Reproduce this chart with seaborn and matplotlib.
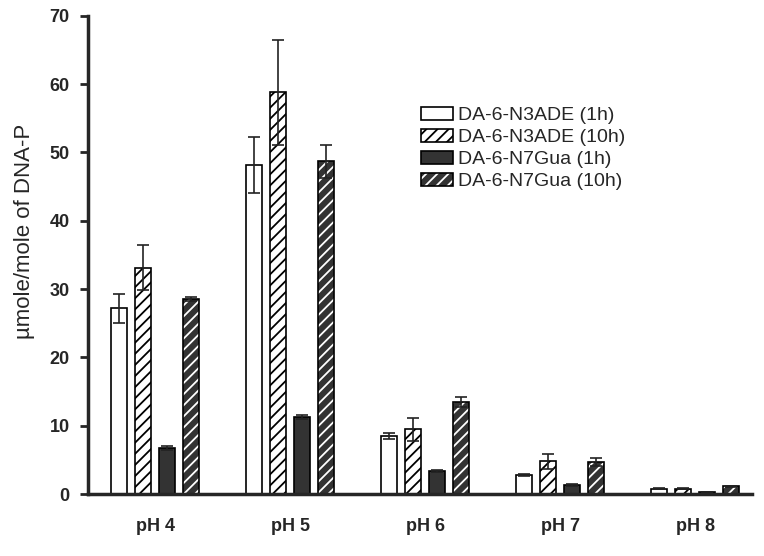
import numpy as np
import pandas as pd
import matplotlib
matplotlib.use("Agg")
import matplotlib.pyplot as plt
from matplotlib.patches import Rectangle
from matplotlib.legend_handler import HandlerTuple
import seaborn as sns

ph_labels = ["pH 4", "pH 5", "pH 6", "pH 7", "pH 8"]
series = ["DA-6-N3ADE (1h)", "DA-6-N3ADE (10h)", "DA-6-N7Gua (1h)", "DA-6-N7Gua (10h)"]

n3ade_1h = [27.2, 48.2, 8.5, 2.8, 0.8]
n3ade_10h = [33.1, 58.8, 9.5, 4.8, 0.8]
n7gua_1h = [6.8, 11.3, 3.3, 1.3, 0.3]
n7gua_10h = [28.6, 48.7, 13.5, 4.7, 1.1]

n3ade_1h_err = [2.1, 4.1, 0.4, 0.2, 0.1]
n3ade_10h_err = [3.3, 7.7, 1.7, 1.1, 0.1]
n7gua_1h_err = [0.3, 0.3, 0.15, 0.1, 0.05]
n7gua_10h_err = [0.3, 2.4, 0.7, 0.6, 0.1]

values = [n3ade_1h, n3ade_10h, n7gua_1h, n7gua_10h]
errors = [n3ade_1h_err, n3ade_10h_err, n7gua_1h_err, n7gua_10h_err]

rows = []
for s, v, e in zip(series, values, errors):
    for ph, val, err in zip(ph_labels, v, e):
        rows.append({"pH": ph, "series": s, "value": val, "err": err})
df = pd.DataFrame(rows)

sns.set_style("ticks")
plt.rcParams['font.family'] = ['Liberation Sans', 'DejaVu Sans']
plt.rcParams['hatch.linewidth'] = 1.3

fig = plt.figure(figsize=(7.64, 5.56), dpi=100)
ax = fig.add_axes([0.115, 0.1115, 0.869, 0.86])

face = ["white", "white", "#333333", "#333333"]
hatch = ["", "///", "", "///"]
palette = dict(zip(series, face))

sns.barplot(data=df, x="pH", y="value", hue="series", hue_order=series,
            order=ph_labels, palette=palette, width=0.71, gap=0.33,
            errorbar=None, edgecolor="black", linewidth=1.2,
            saturation=1, ax=ax, legend=False)

# style bars, add outlines and error bars
bar_containers = list(ax.containers)
for i, cont in enumerate(bar_containers):
    for j, p in enumerate(cont.patches):
        p.set_hatch(hatch[i])
        if i == 3:
            p.set_edgecolor("white")
            p.set_linewidth(0)
            ax.add_patch(Rectangle(p.get_xy(), p.get_width(), p.get_height(),
                                   fill=False, edgecolor="black", linewidth=1.2,
                                   zorder=p.get_zorder() + 0.1))
        cx = p.get_x() + p.get_width() / 2
        ax.errorbar(cx, p.get_height(), yerr=errors[i][j], fmt="none",
                    ecolor="#222222", elinewidth=1.2, capsize=4, capthick=1.2,
                    zorder=5)

# legend
handles = []
for i, s in enumerate(series):
    if i == 3:
        inner = Rectangle((0, 0), 1, 1, facecolor=face[i], hatch=hatch[i],
                          edgecolor="white", linewidth=0)
        outline = Rectangle((0, 0), 1, 1, fill=False, edgecolor="black", linewidth=1.2)
        handles.append((inner, outline))
    else:
        handles.append(Rectangle((0, 0), 1, 1, facecolor=face[i], hatch=hatch[i],
                                 edgecolor="black", linewidth=1.2))
leg = ax.legend(handles, series, loc="upper left", bbox_to_anchor=(0.49, 0.826),
                frameon=False, fontsize=14, handlelength=1.65, handleheight=0.67,
                labelspacing=0.23, handletextpad=0.26, borderaxespad=0,
                handler_map={tuple: HandlerTuple(ndivide=1, pad=0)})

ax.set_ylim(0, 70)
ax.set_xlim(-0.5, 4.42)
ax.set_yticks(range(0, 71, 10))
ax.set_xlabel("")
ax.set_ylabel("\u00b5mole/mole of DNA-P", fontsize=16)
ax.yaxis.set_label_coords(-0.08, 0.55)
for lab in ax.get_yticklabels() + ax.get_xticklabels():
    lab.set_fontweight("bold")
    lab.set_fontsize(13)
ax.tick_params(axis="y", length=6, width=2, direction="out", pad=7)
ax.tick_params(axis="x", length=0, pad=17)
sns.despine(ax=ax)
ax.spines["left"].set_linewidth(2.5)
ax.spines["bottom"].set_linewidth(2.5)

fig.savefig("out.png", dpi=100)
